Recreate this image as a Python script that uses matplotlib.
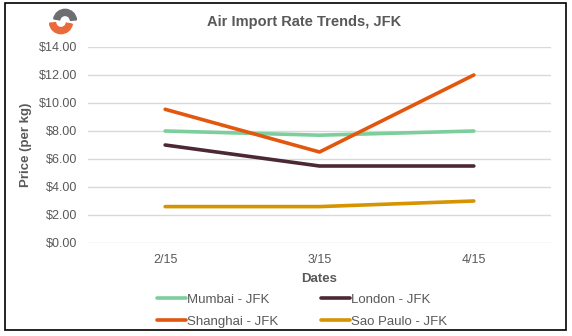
import matplotlib.pyplot as plt
from matplotlib.patches import Wedge, Rectangle
from matplotlib.ticker import FuncFormatter

plt.rcParams['font.family'] = ['Liberation Sans', 'DejaVu Sans']

dates = ['2/15', '3/15', '4/15']
mumbai = [8.0, 7.7, 8.0]
london = [7.0, 5.5, 5.5]
shanghai = [9.55, 6.5, 12.0]
sao_paulo = [2.6, 2.6, 3.0]

series = [
    ('Mumbai - JFK', mumbai, '#7ccf9c'),
    ('London - JFK', london, '#4b2833'),
    ('Shanghai - JFK', shanghai, '#e2560e'),
    ('Sao Paulo - JFK', sao_paulo, '#d69400'),
]

txt = '#595959'
fig = plt.figure(figsize=(5.72, 3.36), dpi=100)
ax = fig.add_axes([88 / 572, 1 - 243 / 336, (551 - 88) / 572, (243 - 47) / 336])

x = range(len(dates))
lines = {}
for name, vals, col in series:
    lines[name], = ax.plot(x, vals, color=col, lw=2.6, label=name, solid_capstyle='round')

ax.set_xlim(-0.5, 2.5)
ax.set_ylim(0, 14)
ax.set_yticks(range(0, 15, 2))
ax.yaxis.set_major_formatter(FuncFormatter(lambda v, p: f'${v:.2f}'))
ax.set_xticks(list(x))
ax.set_xticklabels(dates)
ax.grid(axis='y', color='#d9d9d9', lw=1)
ax.set_axisbelow(True)
for s in ax.spines.values():
    s.set_visible(False)
ax.tick_params(length=0, colors=txt, labelsize=9, pad=8)
ax.tick_params(axis='x', pad=8)

ax.set_ylabel('Price (per kg)', color=txt, fontsize=9.5, fontweight='bold', labelpad=5)
ax.set_xlabel('Dates', color=txt, fontsize=9.5, fontweight='bold', labelpad=5)
fig.text(304 / 572, 1 - 22 / 336, 'Air Import Rate Trends, JFK', ha='center', va='center',
         color=txt, fontsize=10.5, fontweight='bold')

# legend fills column-wise, so order for row-wise reading
order = ['Mumbai - JFK', 'Shanghai - JFK', 'London - JFK', 'Sao Paulo - JFK']
leg = fig.legend([lines[n] for n in order], order, loc='upper left',
                 bbox_to_anchor=(150 / 572, 1 - 287 / 336), ncol=2, frameon=False,
                 fontsize=9.5, handlelength=2.2, handletextpad=0.1, columnspacing=3.25,
                 labelspacing=0.75, borderpad=0)
for t in leg.get_texts():
    t.set_color(txt)

# border
fig.add_artist(Rectangle((5 / 572, 6 / 336), 561 / 572, 327 / 336, transform=fig.transFigure,
                         fill=False, ec='black', lw=1.2))

# logo
lax = fig.add_axes([48 / 572, 1 - 35 / 336, 30 / 572, 27 / 336])
lax.set_xlim(-1, 1)
lax.set_ylim(-1, 1)
lax.set_aspect('equal')
lax.axis('off')
lax.add_patch(Wedge((0.15, 0.05), 0.85, 5, 170, width=0.45, color='#6d6e71'))
lax.add_patch(Wedge((-0.15, -0.05), 0.85, 185, 350, width=0.45, color='#ea6a3c'))

fig.savefig('out.png', dpi=100)
